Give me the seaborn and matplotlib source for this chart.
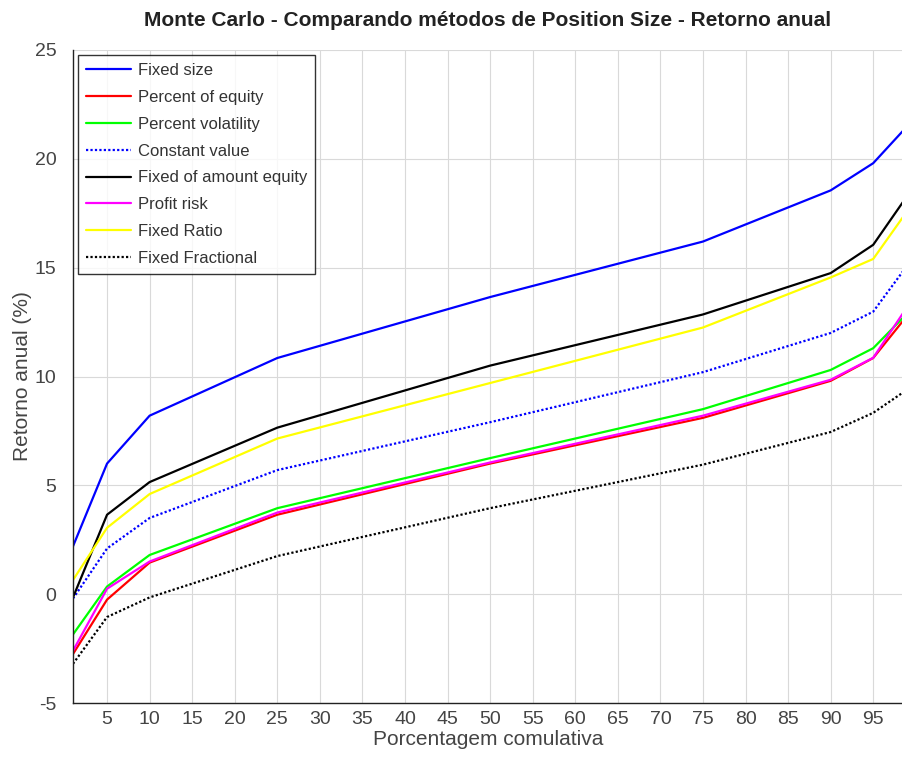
import matplotlib
matplotlib.use("Agg")
import matplotlib.pyplot as plt
import seaborn as sns
import pandas as pd

x = [1, 5, 10, 25, 50, 75, 90, 95, 99]
fixed_size = [2.2, 6.0, 8.2, 10.85, 13.65, 16.2, 18.55, 19.8, 21.5]
percent_equity = [-2.75, -0.25, 1.45, 3.65, 6.0, 8.1, 9.8, 10.85, 12.8]
percent_volatility = [-1.85, 0.35, 1.8, 3.95, 6.25, 8.5, 10.3, 11.3, 12.9]
constant_value = [-0.2, 2.1, 3.5, 5.7, 7.9, 10.2, 12.0, 12.98, 15.1]
fixed_amount_equity = [-0.15, 3.65, 5.15, 7.65, 10.5, 12.85, 14.75, 16.05, 18.3]
profit_risk = [-2.6, 0.25, 1.5, 3.75, 6.05, 8.2, 9.85, 10.86, 13.2]
fixed_ratio = [0.65, 3.05, 4.6, 7.15, 9.7, 12.25, 14.55, 15.4, 17.6]
fixed_fractional = [-3.2, -1.05, -0.15, 1.75, 3.95, 5.95, 7.45, 8.33, 9.4]

dot = (0, (1, 1))
series = [
    ("Fixed size", fixed_size, "#0000ff", "-"),
    ("Percent of equity", percent_equity, "#ff0000", "-"),
    ("Percent volatility", percent_volatility, "#00ff00", "-"),
    ("Constant value", constant_value, "#0000ff", dot),
    ("Fixed of amount equity", fixed_amount_equity, "#000000", "-"),
    ("Profit risk", profit_risk, "#ff00ff", "-"),
    ("Fixed Ratio", fixed_ratio, "#ffff00", "-"),
    ("Fixed Fractional", fixed_fractional, "#000000", dot),
]

sns.set_style("white")
plt.rcParams['font.family'] = ['Liberation Sans', 'DejaVu Sans']
plt.rcParams['axes.unicode_minus'] = False

fig = plt.figure(figsize=(9.03, 7.58), dpi=100)
ax = fig.add_axes([73/903, 1-703/758, 1-73/903, (703-50)/758])

for name, vals, col, ls in series:
    df = pd.DataFrame({"x": x, "y": vals})
    sns.lineplot(data=df, x="x", y="y", ax=ax, color=col, linestyle=ls,
                 linewidth=1.6, label=name)

ax.set_xlim(1, 98.5)
ax.set_ylim(-5, 25)
ax.set_xticks(list(range(5, 96, 5)))
ax.set_yticks([-5, 0, 5, 10, 15, 20, 25])
ax.grid(True, color="#d9d9d9", linewidth=0.8)
ax.set_axisbelow(True)
for s in ["top", "right"]:
    ax.spines[s].set_visible(False)
for s in ["left", "bottom"]:
    ax.spines[s].set_color("#222222")
    ax.spines[s].set_linewidth(1.0)
ax.tick_params(axis="both", direction="in", length=6, width=1, labelsize=14,
               colors="#222222", labelcolor="#444444", pad=6)
ax.tick_params(axis="y", pad=12)
ax.set_xlabel("Porcentagem comulativa", fontsize=15, color="#444444", labelpad=1)
ax.set_ylabel("Retorno anual (%)", fontsize=15, color="#444444", labelpad=2)
ax.set_title("Monte Carlo - Comparando métodos de Position Size - Retorno anual",
             fontsize=15, fontweight="bold", color="#222222", pad=17)

leg = ax.legend(loc="upper left", bbox_to_anchor=(0.006, 0.9923), fontsize=12,
                frameon=True, fancybox=False, handlelength=2.7, handletextpad=0.42,
                labelspacing=0.71, borderpad=0.48, borderaxespad=0)
leg.get_frame().set_edgecolor("#000000")
leg.get_frame().set_linewidth(1.0)
for t in leg.get_texts():
    t.set_color("#333333")

fig.savefig("out.png", dpi=100)
